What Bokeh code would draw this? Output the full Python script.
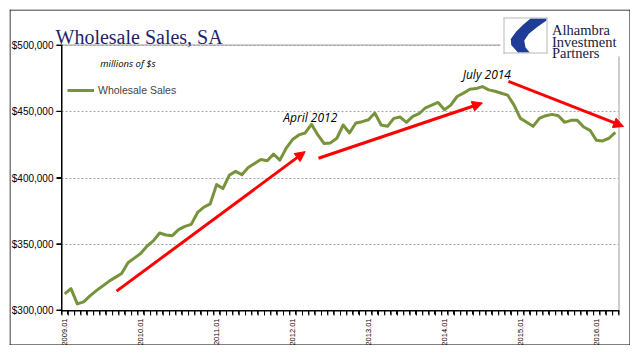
import math
from bokeh.plotting import figure
from bokeh.models import (Range1d, FixedTicker, NumeralTickFormatter, Label, Arrow, NormalHead,
                          BoxAnnotation, PolyAnnotation, Legend, LegendItem)
from bokeh.embed import file_html
from bokeh.resources import INLINE

# ---------------- data (millions of $, monthly, SA) ----------------
sales = [
    312500, 316500, 305000, 306500, 311000, 315000, 318500, 322000, 325000, 328000,
    336000, 339500, 343000, 348500, 352500, 358500, 357000, 356500, 361000, 363500,
    365000, 374000, 378000, 380500, 395000, 392000, 402000, 405000, 402500, 408000,
    411000, 414000, 413000, 418000, 413500, 422500, 429000, 432500, 434000, 440500,
    432500, 426000, 426500, 430000, 440000, 434000, 441500, 442500, 444000, 449000,
    440000, 439000, 445000, 446000, 442000, 446500, 448500, 453000, 455000, 457000,
    451500, 455000, 461500, 464000, 467000, 467500, 469000, 466500, 465500, 464000,
    462500, 455000, 445000, 442000, 439000, 445000, 447000, 448000, 447000, 442000,
    443500, 443500, 438500, 436000, 428500, 428000, 430000, 434500,
]
month_index = list(range(len(sales)))
tick_positions = [0, 12, 24, 36, 48, 60, 72, 84]
tick_labels = ["2009.01", "2010.01", "2011.01", "2012.01", "2013.01", "2014.01", "2015.01", "2016.01"]
y_ticks = [300000, 350000, 400000, 450000, 500000]
y_min, y_max = 300000, 500000

# trend arrows (month index, value)
arrow_x0 = [8.2, 40.1, 70.1]
arrow_y0 = [314600, 414900, 473000]
arrow_x1 = [38.0, 66.0, 88.3]
arrow_y1 = [419900, 456600, 438900]

x_lo, x_hi = -0.5, len(sales) - 0.5
minor_ticks = [k - 0.5 for k in range(len(sales) + 1)]

# ---------------- geometry ----------------
W, H = 621, 336                 # canvas (the whole bordered chart)
PX_X = 557 / (x_hi - x_lo)      # pixels per month in the plot area
PX_Y = 265 / (y_max - y_min)    # pixels per $ in the plot area
AX_LEFT, AX_BOTTOM = 52, 35     # plot-area offset from the canvas left / bottom edge
x_start = x_lo - AX_LEFT / PX_X
x_end = x_start + W / PX_X
y_start = y_min - AX_BOTTOM / PX_Y
y_end = y_start + H / PX_Y
DX, DY = 1 / PX_X, 1 / PX_Y     # one pixel in data units

# the frame covers the whole canvas; both axes are pinned to the plot-area edges
p = figure(width=W, height=H, x_range=Range1d(x_start, x_end), y_range=Range1d(y_start, y_end),
           output_backend="svg", toolbar_location=None,
           min_border_left=0, min_border_right=0, min_border_top=0, min_border_bottom=0)
p.styles = {"margin-left": "9px", "margin-top": "9px"}
p.outline_line_color = None
p.background_fill_color = "white"
p.border_fill_color = "white"


def seg(x0, y0, x1, y1, color="black", level="annotation", units="data", width=1):
    """plain line segment annotation (rules, ticks, borders)"""
    p.add_layout(Arrow(start=None, end=None, x_start=x0, y_start=y0, x_end=x1, y_end=y1,
                       start_units=units, end_units=units, line_color=color, line_width=width,
                       level=level))


# y axis
p.yaxis.fixed_location = x_lo
p.yaxis.bounds = (y_min, y_max)
p.yaxis.ticker = FixedTicker(ticks=y_ticks)
p.yaxis.formatter = NumeralTickFormatter(format="$0,0")
p.yaxis.major_label_text_font = "Liberation Sans"
p.yaxis.major_label_text_font_size = "10px"
p.yaxis.major_label_text_color = "black"
p.yaxis.major_tick_out = 5
p.yaxis.major_tick_in = 0
p.yaxis.minor_tick_line_color = None
p.yaxis.axis_line_color = "black"
p.yaxis.major_tick_line_color = "black"
p.yaxis.major_label_standoff = 3

# x axis
p.xaxis.fixed_location = y_min
p.xaxis.bounds = (x_lo, x_hi)
p.xaxis.ticker = FixedTicker(ticks=tick_positions, minor_ticks=minor_ticks)
p.xaxis.major_label_overrides = {t: l for t, l in zip(tick_positions, tick_labels)}
p.xaxis.major_label_orientation = math.pi / 2
p.xaxis.major_label_text_font = "Liberation Sans"
p.xaxis.major_label_text_font_size = "7.5px"
p.xaxis.major_label_text_color = "black"
p.xaxis.major_tick_line_color = None
p.xaxis.major_tick_out = 4
p.xaxis.major_tick_in = 0
p.xaxis.minor_tick_out = 4
p.xaxis.minor_tick_in = 0
p.xaxis.minor_tick_line_color = "black"
p.xaxis.axis_line_color = "black"
p.xaxis.major_label_standoff = 4

p.xgrid.visible = False
p.ygrid.grid_line_color = "#a6a6a6"
p.ygrid.grid_line_dash = "2 2"
p.ygrid.grid_line_width = 1

# hide grid outside the plot area
p.add_layout(BoxAnnotation(left=x_hi, fill_color="white", fill_alpha=1, line_color=None, level="underlay"))
p.add_layout(BoxAnnotation(right=x_lo - 6 * DX, fill_color="white", fill_alpha=1, line_color=None,
                           level="underlay"))
# plot-area top/right border (gray)
seg(x_lo, y_max + 0.5 * DY, x_hi, y_max + 0.5 * DY, color="#9a9a9a", level="underlay")
seg(x_hi + 0.5 * DX, y_min, x_hi + 0.5 * DX, y_max, color="#9a9a9a", level="underlay")

# axis rules and tick marks (pinned axes only draw their labels)
seg(x_lo + 0.5 * DX, y_min - DY, x_lo + 0.5 * DX, y_max + DY)
seg(x_lo, y_min - 0.5 * DY, x_hi + DX, y_min - 0.5 * DY)
for t in y_ticks:
    seg(x_lo - 5 * DX, t + 0.5 * DY, x_lo, t + 0.5 * DY)
for t in minor_ticks:
    seg(t + 0.5 * DX, y_min, t + 0.5 * DX, y_min - 5 * DY)

# series
r = p.line(month_index, sales, line_color="#77933C", line_width=3, line_join="round")

legend = Legend(items=[LegendItem(label="Wholesale Sales", renderers=[r])], location=(58, 249),
                padding=0, margin=0, spacing=0, glyph_width=27, glyph_height=10, label_standoff=4,
                label_text_font="Liberation Sans", label_text_font_size="10.5px",
                border_line_alpha=0, background_fill_alpha=0)
p.add_layout(legend)

# annotations
p.add_layout(Label(x=38.8, y=445450, text="April 2012", text_font="Open Sans", text_font_style="italic",
                   text_font_size="12px", text_align="center", text_baseline="middle", text_color="black"))
p.add_layout(Label(x=66.7, y=478000, text="July 2014", text_font="Open Sans", text_font_style="italic",
                   text_font_size="12px", text_align="center", text_baseline="middle", text_color="black"))
p.add_layout(Label(x=10, y=486400, text="millions of $s", text_font="Open Sans", text_font_style="italic",
                   text_font_size="9.5px", text_align="center", text_baseline="middle", text_color="black"))

# title (screen units: from canvas left / bottom)
p.add_layout(Label(x=46, y=309, x_units="screen", y_units="screen", text="Wholesale Sales, SA",
                   text_font="Liberation Serif", text_font_size="20px", text_color="#1F1F6B",
                   text_baseline="alphabetic"))

# logo area
p.add_layout(BoxAnnotation(left=491, bottom=289, left_units="screen", bottom_units="screen",
                           fill_color="white", fill_alpha=1, line_color=None, level="overlay"))
cres_u = [0.62, 1.0, 1.0, 0.78, 0.58, 0.47, 0.5, 0.6, 0.32, 0.16, 0.15, 0.28, 0.45]
cres_v = [0.0, 0.0, 0.06, 0.25, 0.45, 0.65, 0.85, 1.0, 1.0, 0.78, 0.6, 0.38, 0.18]
p.add_layout(PolyAnnotation(xs=[495 + u * 42 for u in cres_u], ys=[327 - v * 34 for v in cres_v],
                            xs_units="screen", ys_units="screen", fill_color="#1F3C96", fill_alpha=1,
                            line_color=None, level="overlay"))
for (a, b, c, d) in [(494.5, 292, 494.5, 328), (537.5, 292, 537.5, 328),
                     (494, 292.5, 538, 292.5), (494, 327.5, 538, 327.5)]:
    seg(a, b, c, d, color="#b8b8b8", level="overlay", units="screen")
for txt, yy in zip(["Alhambra", "Investment", "Partners"], [316, 304, 292.5]):
    p.add_layout(Label(x=542.5, y=yy, x_units="screen", y_units="screen", text=txt,
                       text_font="Liberation Serif", text_font_size="14.5px", text_color="#1a1a40",
                       text_baseline="alphabetic", level="overlay"))

# arrows
for xs, ys, xe, ye in zip(arrow_x0, arrow_y0, arrow_x1, arrow_y1):
    p.add_layout(Arrow(end=NormalHead(size=10, fill_color="#ff0000", line_color="#ff0000"),
                       x_start=xs, y_start=ys, x_end=xe, y_end=ye,
                       line_color="#ff0000", line_width=3, level="overlay"))

# outer chart border
for (a, b, c, d) in [(0.5, 0, 0.5, H), (W - 0.5, 0, W - 0.5, H), (0, 0.5, W, 0.5), (0, H - 0.5, W, H - 0.5)]:
    seg(a, b, c, d, level="overlay", units="screen")

open("out.html", "w").write(file_html(p, INLINE))
